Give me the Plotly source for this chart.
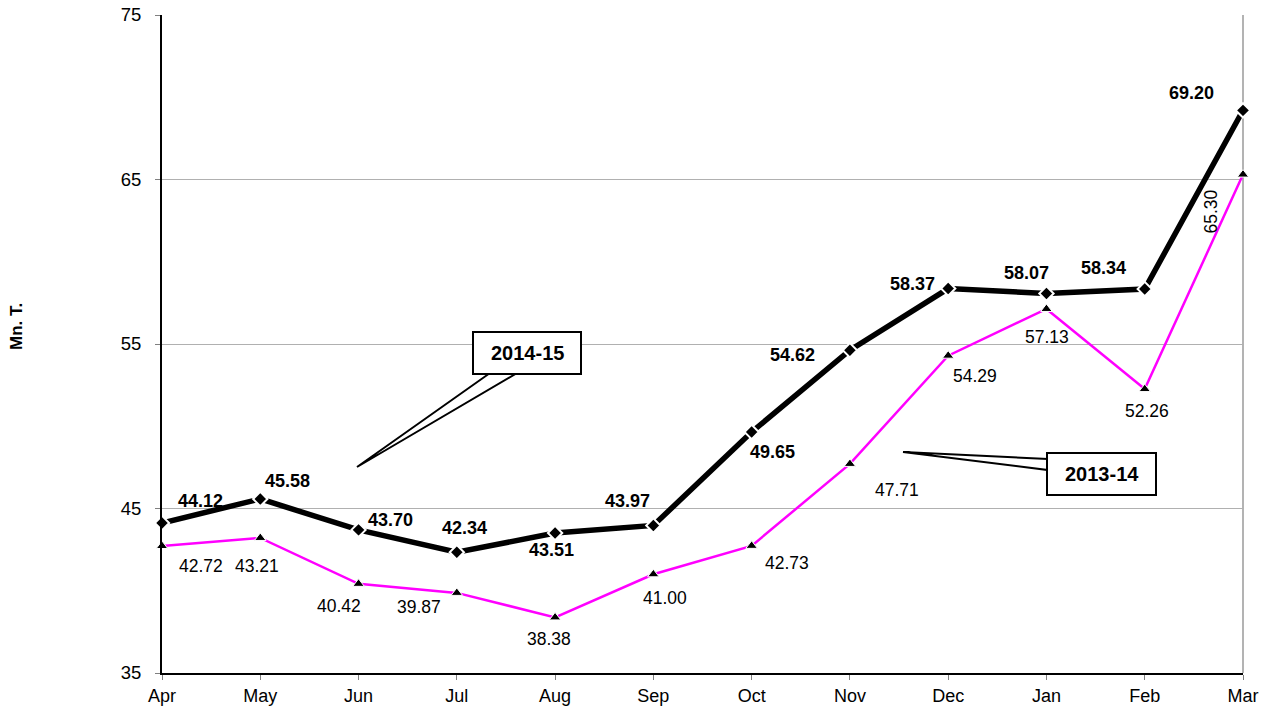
import plotly.graph_objects as go

months = ["Apr", "May", "Jun", "Jul", "Aug", "Sep", "Oct", "Nov", "Dec", "Jan", "Feb", "Mar"]
fy_2014_15 = [44.12, 45.58, 43.70, 42.34, 43.51, 43.97, 49.65, 54.62, 58.37, 58.07, 58.34, 69.20]
fy_2013_14 = [42.72, 43.21, 40.42, 39.87, 38.38, 41.00, 42.73, 47.71, 54.29, 57.13, 52.26, 65.30]
y_ticks = [35, 45, 55, 65, 75]

# label offsets in pixels (dx right, dy down)
off_1415 = [(38, -22), (27, -18), (32, -10), (8, -24), (-4, 17), (-26, -24),
            (21, 20), (-57, 5), (-36, -5), (-20, -21), (-41, -21), (-52, -17)]
off_1314 = [(39, 20), (-3, 28), (-20, 22), (-38, 14), (-6, 22), (12, 24),
            (35, 17), (47, 26), (27, 20), (1, 28), (2, 22), (-32, 37)]

FONT = "Liberation Sans, Arial, sans-serif"
W, H = 1267, 709
L, R, T, B = 162, 24, 15, 36
PW, PH = W - L - R, H - T - B


def px(x):
    return (x - L) / PW


def py(y):
    return (H - B - y) / PH


fig = go.Figure()
fig.add_trace(go.Scatter(
    x=months, y=fy_2013_14, mode="lines+markers", name="2013-14",
    line=dict(color="#FF00FF", width=2.5),
    marker=dict(symbol="triangle-up", size=10, color="black", line=dict(color="white", width=1)),
    cliponaxis=False,
))
fig.add_trace(go.Scatter(
    x=months, y=fy_2014_15, mode="lines+markers", name="2014-15",
    line=dict(color="black", width=5.5),
    marker=dict(symbol="diamond", size=11, color="black", line=dict(color="white", width=2)),
    cliponaxis=False,
))

annotations = []
for m, v, (dx, dy) in zip(months, fy_2014_15, off_1415):
    annotations.append(dict(x=m, y=v, xref="x", yref="y", text=f"<b>{v:.2f}</b>",
                            showarrow=False, xshift=dx, yshift=-dy,
                            xanchor="center", yanchor="middle",
                            font=dict(family=FONT, size=18, color="black")))
for i, (m, v, (dx, dy)) in enumerate(zip(months, fy_2013_14, off_1314)):
    annotations.append(dict(x=m, y=v, xref="x", yref="y", text=f"{v:.2f}",
                            showarrow=False, xshift=dx, yshift=-dy,
                            xanchor="center", yanchor="middle",
                            textangle=-90 if i == len(months) - 1 else 0,
                            font=dict(family=FONT, size=17.5, color="black")))

# y-axis title
annotations.append(dict(x=px(17), y=py(327), xref="paper", yref="paper", text="<b>Mn. T.</b>",
                        showarrow=False, textangle=-90, xanchor="center", yanchor="middle",
                        font=dict(family=FONT, size=17, color="black")))

# callout labels
annotations.append(dict(x=px(527), y=py(353), xref="paper", yref="paper", text="<b>2014-15</b>",
                        showarrow=False, xanchor="center", yanchor="middle",
                        font=dict(family=FONT, size=20, color="black")))
annotations.append(dict(x=px(1101.5), y=py(474), xref="paper", yref="paper", text="<b>2013-14</b>",
                        showarrow=False, xanchor="center", yanchor="middle",
                        font=dict(family=FONT, size=20, color="black")))

shapes = [
    # right border
    dict(type="line", xref="paper", yref="paper", x0=1, x1=1, y0=0, y1=1,
         line=dict(color="#808080", width=1.2), layer="below"),
    # 2014-15 callout wedge + box
    dict(type="path", xref="paper", yref="paper",
         path=f"M {px(490)},{py(373)} L {px(357)},{py(467)} L {px(517)},{py(373)} Z",
         fillcolor="white", line=dict(color="black", width=2)),
    dict(type="rect", xref="paper", yref="paper", x0=px(473), x1=px(581), y0=py(374), y1=py(332),
         fillcolor="white", line=dict(color="black", width=2)),
    # 2013-14 callout wedge + box
    dict(type="path", xref="paper", yref="paper",
         path=f"M {px(1048)},{py(459)} L {px(903)},{py(452)} L {px(1048)},{py(470)} Z",
         fillcolor="white", line=dict(color="black", width=2)),
    dict(type="rect", xref="paper", yref="paper", x0=px(1047), x1=px(1156), y0=py(495), y1=py(453),
         fillcolor="white", line=dict(color="black", width=2)),
]

fig.update_layout(
    width=W, height=H,
    margin=dict(l=L, r=R, t=T, b=B, pad=0, autoexpand=False),
    paper_bgcolor="white", plot_bgcolor="white",
    showlegend=False,
    font=dict(family=FONT, size=18, color="black"),
    annotations=annotations,
    shapes=shapes,
    xaxis=dict(
        type="category", range=[0, len(months) - 1], automargin=False,
        showgrid=False, zeroline=False,
        showline=True, linecolor="black", linewidth=2,
        ticks="outside", ticklen=5, tickcolor="#808080", tickwidth=1,
        tickfont=dict(family=FONT, size=18, color="black"),
    ),
    yaxis=dict(
        range=[35, 75], tickvals=y_ticks, ticktext=[str(t) for t in y_ticks], automargin=False,
        showgrid=True, gridcolor="#B0B0B0", gridwidth=1, zeroline=False,
        showline=True, linecolor="black", linewidth=2,
        ticks="outside", ticklen=5, tickcolor="#808080", tickwidth=1,
        ticklabelstandoff=10,
        tickfont=dict(family=FONT, size=18.5, color="black"),
    ),
)

fig.write_html("out.html", config={"displayModeBar": False},
               post_script="document.body.style.margin='0';document.body.style.overflow='hidden';")
